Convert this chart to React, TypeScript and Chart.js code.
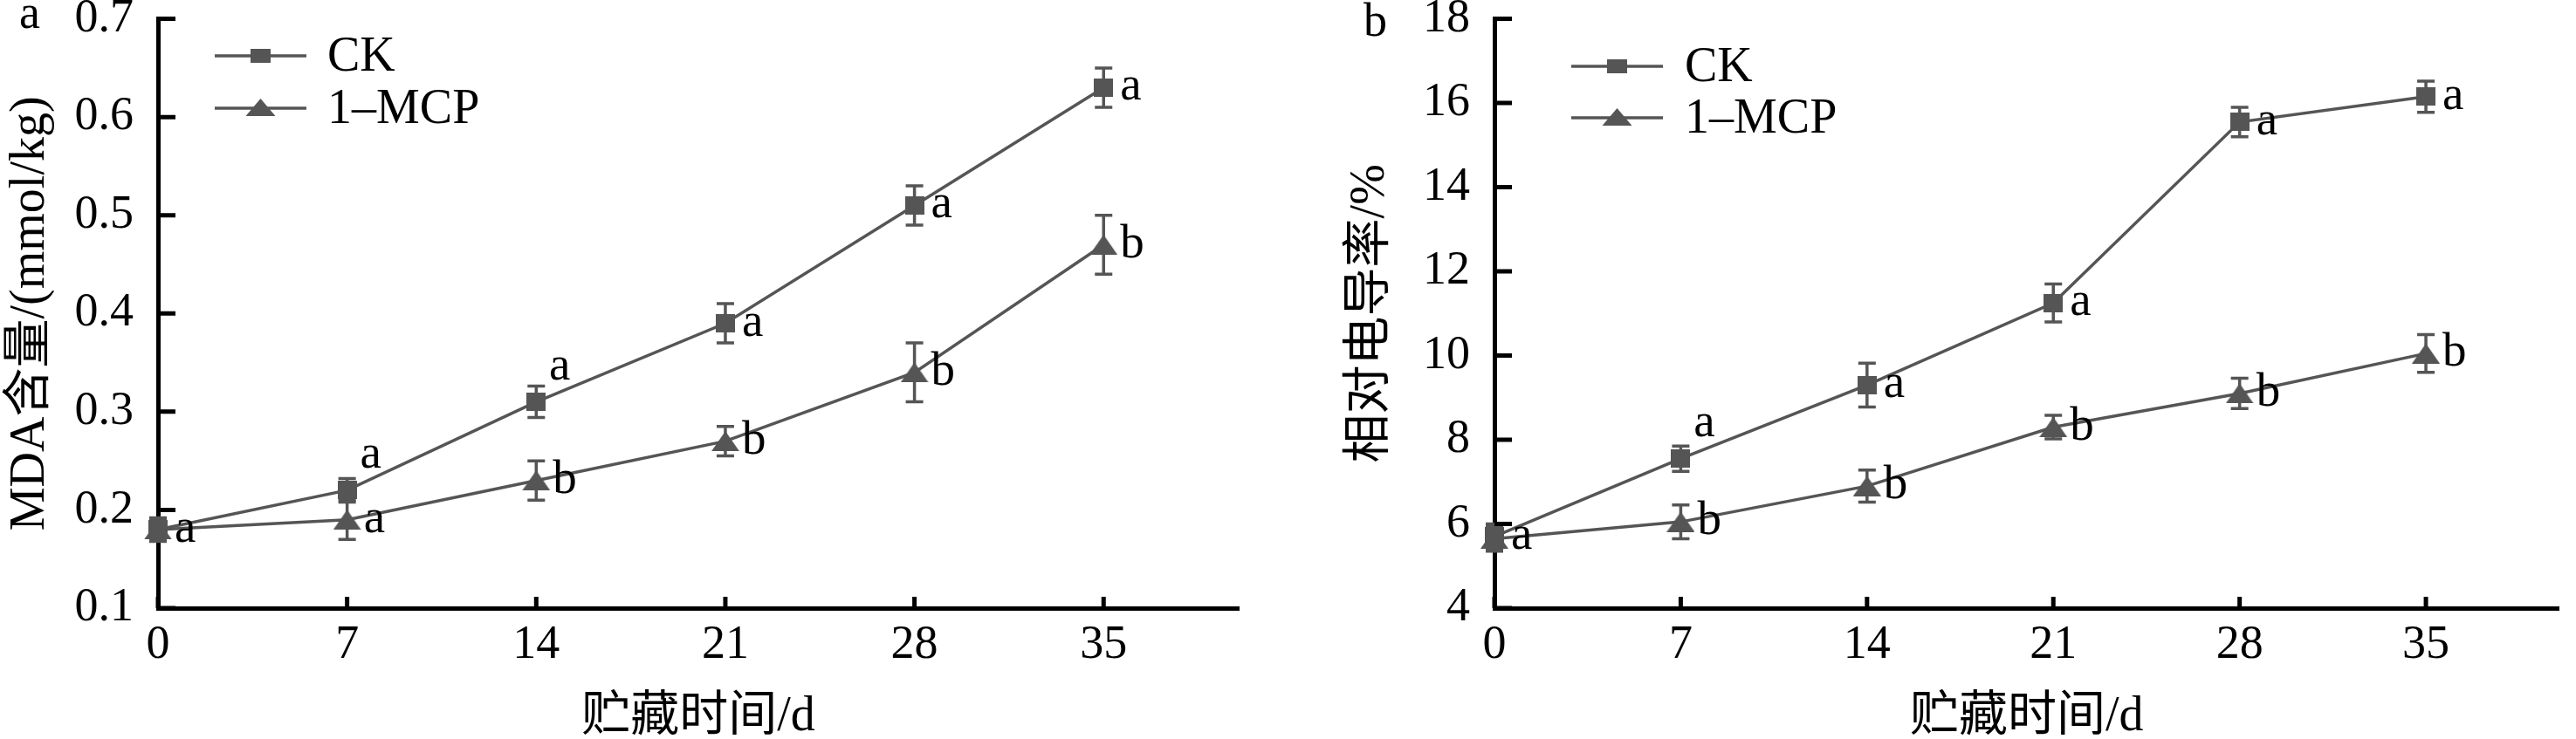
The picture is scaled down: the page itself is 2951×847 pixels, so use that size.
import React, { useEffect, useRef } from 'react';
import { Chart, registerables } from 'chart.js';

Chart.register(...registerables);

const FONT = "'Liberation Serif', 'Noto Sans CJK SC', serif";
const GRAY = '#555555';

// ---------- data ----------
const storageDays = [0, 7, 14, 21, 28, 35];
const dayTickValues = [0, 7, 14, 21, 28, 35];
const seriesNames = ['CK', '1–MCP'];

// panel a: MDA content (mmol/kg)
const mdaCK = [0.18, 0.22, 0.31, 0.39, 0.51, 0.63];
const mdaCKErr = [0.01, 0.012, 0.016, 0.02, 0.02, 0.02];
const mdaMCP = [0.18, 0.19, 0.23, 0.27, 0.34, 0.47];
const mdaMCPErr = [0.012, 0.02, 0.02, 0.015, 0.03, 0.03];
const mdaCKLetters = ['a', 'a', 'a', 'a', 'a', 'a'];
const mdaMCPLetters = ['', 'a', 'b', 'b', 'b', 'b'];
const mdaTickValues = [0.1, 0.2, 0.3, 0.4, 0.5, 0.6, 0.7];

// panel b: relative electrical conductivity (%)
const ecCK = [5.7, 7.55, 9.3, 11.25, 15.55, 16.15];
const ecCKErr = [0.3, 0.3, 0.52, 0.45, 0.35, 0.37];
const ecMCP = [5.65, 6.05, 6.9, 8.3, 9.1, 10.05];
const ecMCPErr = [0.3, 0.4, 0.38, 0.28, 0.36, 0.45];
const ecCKLetters = ['a', 'a', 'a', 'a', 'a', 'a'];
const ecMCPLetters = ['', 'b', 'b', 'b', 'b', 'b'];
const ecTickValues = [4, 6, 8, 10, 12, 14, 16, 18];

// ---------- panel layout specs ----------
type Panel = {
  left: number;
  width: number;
  axisW: number;
  padRight: number;
  yMin: number;
  yMax: number;
  yTicks: number[];
  yDecimals: number;
  yTitle: string;
  yTitlePad: number;
  ck: number[];
  ckErr: number[];
  mcp: number[];
  mcpErr: number[];
  ckLetters: string[];
  mcpLetters: string[];
  ckAbove: boolean[];
  legend: { x1: number; x2: number; y1: number; y2: number; tx: number };
  panelLabel: string;
  panelPos: { x: number; y: number };
};

const panels: Panel[] = [
  {
    left: 0,
    width: 1500,
    axisW: 181,
    padRight: 81,
    yMin: 0.1,
    yMax: 0.7,
    yTicks: mdaTickValues,
    yDecimals: 1,
    yTitle: 'MDA含量/(mmol/kg)',
    yTitlePad: 2,
    ck: mdaCK,
    ckErr: mdaCKErr,
    mcp: mdaMCP,
    mcpErr: mdaMCPErr,
    ckLetters: mdaCKLetters,
    mcpLetters: mdaMCPLetters,
    ckAbove: [false, true, true, false, false, false],
    legend: { x1: 246, x2: 351, y1: 64, y2: 124, tx: 375 },
    panelLabel: 'a',
    panelPos: { x: 22, y: 32 },
  },
  {
    left: 1500,
    width: 1451,
    axisW: 212,
    padRight: 2,
    yMin: 4,
    yMax: 18,
    yTicks: ecTickValues,
    yDecimals: 0,
    yTitle: '相对电导率/%',
    yTitlePad: 37,
    ck: ecCK,
    ckErr: ecCKErr,
    mcp: ecMCP,
    mcpErr: ecMCPErr,
    ckLetters: ecCKLetters,
    mcpLetters: ecMCPLetters,
    ckAbove: [false, true, false, false, false, false],
    legend: { x1: 300, x2: 405, y1: 76, y2: 135, tx: 430 },
    panelLabel: 'b',
    panelPos: { x: 62, y: 41 },
  },
];

function markerCanvas(shape: 'square' | 'triangle', w: number, h: number) {
  const c = document.createElement('canvas');
  c.width = w;
  c.height = h;
  const ctx = c.getContext('2d')!;
  ctx.fillStyle = GRAY;
  if (shape === 'square') {
    ctx.fillRect(0, 0, w, h);
  } else {
    ctx.beginPath();
    ctx.moveTo(w / 2, 0);
    ctx.lineTo(w, h);
    ctx.lineTo(0, h);
    ctx.closePath();
    ctx.fill();
  }
  return c;
}

function drawLegendMarker(ctx: CanvasRenderingContext2D, shape: string, x: number, y: number) {
  ctx.fillStyle = GRAY;
  if (shape === 'square') {
    ctx.fillRect(x - 11.5, y - 8, 23, 16);
  } else {
    ctx.beginPath();
    ctx.moveTo(x, y - 11);
    ctx.lineTo(x + 17, y + 9);
    ctx.lineTo(x - 17, y + 9);
    ctx.closePath();
    ctx.fill();
  }
}

function buildChart(canvas: HTMLCanvasElement, p: Panel) {
  const squareImg = markerCanvas('square', 22, 21);
  const triImg = markerCanvas('triangle', 32, 23);

  const decor = {
    id: 'decor',
    beforeDatasetsDraw(chart: any) {
      const ctx = chart.ctx as CanvasRenderingContext2D;
      const ys = chart.scales.y;
      ctx.save();
      ctx.strokeStyle = GRAY;
      ctx.lineWidth = 3.5;
      [p.ckErr, p.mcpErr].forEach((errs, i) => {
        const meta = chart.getDatasetMeta(i);
        const vals = i === 0 ? p.ck : p.mcp;
        vals.forEach((v, j) => {
          const x = meta.data[j].x;
          const y1 = ys.getPixelForValue(v + errs[j]);
          const y2 = ys.getPixelForValue(v - errs[j]);
          ctx.beginPath();
          ctx.moveTo(x, y1);
          ctx.lineTo(x, y2);
          ctx.moveTo(x - 10, y1);
          ctx.lineTo(x + 10, y1);
          ctx.moveTo(x - 10, y2);
          ctx.lineTo(x + 10, y2);
          ctx.stroke();
        });
      });
      ctx.restore();
    },
    afterDraw(chart: any) {
      const ctx = chart.ctx as CanvasRenderingContext2D;
      const xs = chart.scales.x;
      const ys = chart.scales.y;
      const area = chart.chartArea;
      ctx.save();
      // inward tick marks
      ctx.strokeStyle = '#000';
      ctx.lineWidth = 5;
      ctx.beginPath();
      p.yTicks.forEach((t) => {
        const y = ys.getPixelForValue(t);
        ctx.moveTo(area.left, y);
        ctx.lineTo(area.left + 20, y);
      });
      dayTickValues.forEach((d) => {
        const x = xs.getPixelForValue(d);
        ctx.moveTo(x, area.bottom);
        ctx.lineTo(x, area.bottom - 13);
      });
      ctx.stroke();

      // significance letters
      ctx.fillStyle = '#000';
      ctx.font = `55px ${FONT}`;
      ctx.textBaseline = 'alphabetic';
      [p.ckLetters, p.mcpLetters].forEach((letters, i) => {
        const meta = chart.getDatasetMeta(i);
        letters.forEach((l, j) => {
          if (!l) return;
          const pt = meta.data[j];
          if (i === 0 && p.ckAbove[j]) {
            ctx.textAlign = 'center';
            ctx.fillText(l, pt.x + 27, pt.y - 26);
          } else {
            ctx.textAlign = 'left';
            ctx.fillText(l, pt.x + 19, pt.y + 14);
          }
        });
      });

      // legend
      const lg = p.legend;
      [lg.y1, lg.y2].forEach((y, i) => {
        ctx.strokeStyle = GRAY;
        ctx.lineWidth = 3.5;
        ctx.beginPath();
        ctx.moveTo(lg.x1, y);
        ctx.lineTo(lg.x2, y);
        ctx.stroke();
        drawLegendMarker(ctx, i === 0 ? 'square' : 'triangle', (lg.x1 + lg.x2) / 2, y);
        ctx.fillStyle = '#000';
        ctx.font = `56px ${FONT}`;
        ctx.textAlign = 'left';
        ctx.textBaseline = 'middle';
        ctx.fillText(seriesNames[i], lg.tx, y + 2);
      });

      // panel label
      ctx.fillStyle = '#000';
      ctx.font = `54px ${FONT}`;
      ctx.textAlign = 'left';
      ctx.textBaseline = 'alphabetic';
      ctx.fillText(p.panelLabel, p.panelPos.x, p.panelPos.y);
      ctx.restore();
    },
  };

  const toPoints = (vals: number[]) => storageDays.map((d, i) => ({ x: d, y: vals[i] }));

  return new Chart(canvas, {
    type: 'line',
    data: {
      datasets: [
        {
          label: seriesNames[0],
          data: toPoints(p.ck),
          borderColor: GRAY,
          borderWidth: 3.5,
          pointStyle: squareImg as any,
          pointRadius: 11,
          tension: 0,
          clip: false as any,
        },
        {
          label: seriesNames[1],
          data: toPoints(p.mcp),
          borderColor: GRAY,
          borderWidth: 3.5,
          pointStyle: triImg as any,
          pointRadius: 16,
          tension: 0,
          clip: false as any,
        },
      ],
    },
    options: {
      animation: false,
      responsive: false,
      events: [],
      layout: { padding: { left: 0, top: 21.6, right: p.padRight, bottom: 0 } },
      plugins: { legend: { display: false }, tooltip: { enabled: false } },
      scales: {
        x: {
          type: 'linear',
          min: 0,
          max: 40,
          grid: { display: false, drawTicks: false },
          border: { display: true, color: '#000', width: 5 },
          afterBuildTicks: (scale: any) => {
            scale.ticks = dayTickValues.map((v) => ({ value: v }));
          },
          afterFit: (scale: any) => {
            scale.height = 150;
            scale.paddingLeft = 0;
            scale.paddingRight = 0;
          },
          ticks: {
            color: '#000',
            padding: 10,
            maxRotation: 0,
            autoSkip: false,
            font: { family: FONT, size: 54 },
            callback: (v: any) => String(v),
          },
          title: {
            display: true,
            text: '贮藏时间/d',
            color: '#000',
            font: { family: FONT, size: 56, lineHeight: 1 },
            padding: { top: 0, bottom: -3 },
          },
        },
        y: {
          type: 'linear',
          min: p.yMin,
          max: p.yMax,
          grid: { display: false, drawTicks: false },
          border: { display: true, color: '#000', width: 5 },
          afterBuildTicks: (scale: any) => {
            scale.ticks = p.yTicks.map((v) => ({ value: v }));
          },
          afterFit: (scale: any) => {
            scale.width = p.axisW;
            scale.paddingTop = 0;
            scale.paddingBottom = 0;
          },
          ticks: {
            color: '#000',
            padding: 28,
            autoSkip: false,
            font: { family: FONT, size: 54 },
            callback: (v: any) => Number(v).toFixed(p.yDecimals),
          },
          title: {
            display: true,
            text: p.yTitle,
            color: '#000',
            font: { family: FONT, size: 56 },
            padding: { top: p.yTitlePad, bottom: 0 },
          },
        },
      },
    } as any,
    plugins: [decor as any],
  });
}

function PanelChart({ p }: { p: Panel }) {
  const ref = useRef<HTMLCanvasElement | null>(null);
  useEffect(() => {
    if (!ref.current) return;
    const chart = buildChart(ref.current, p);
    return () => chart.destroy();
  }, [p]);
  return (
    <canvas
      ref={ref}
      width={p.width}
      height={847}
      style={{ position: 'absolute', left: p.left, top: 0, width: p.width, height: 847, display: 'block' }}
    />
  );
}

export default function App() {
  return (
    <div style={{ position: 'absolute', left: 0, top: 0, width: 2951, height: 847, background: '#fff', overflow: 'hidden' }}>
      {panels.map((p, i) => (
        <PanelChart key={i} p={p} />
      ))}
    </div>
  );
}
